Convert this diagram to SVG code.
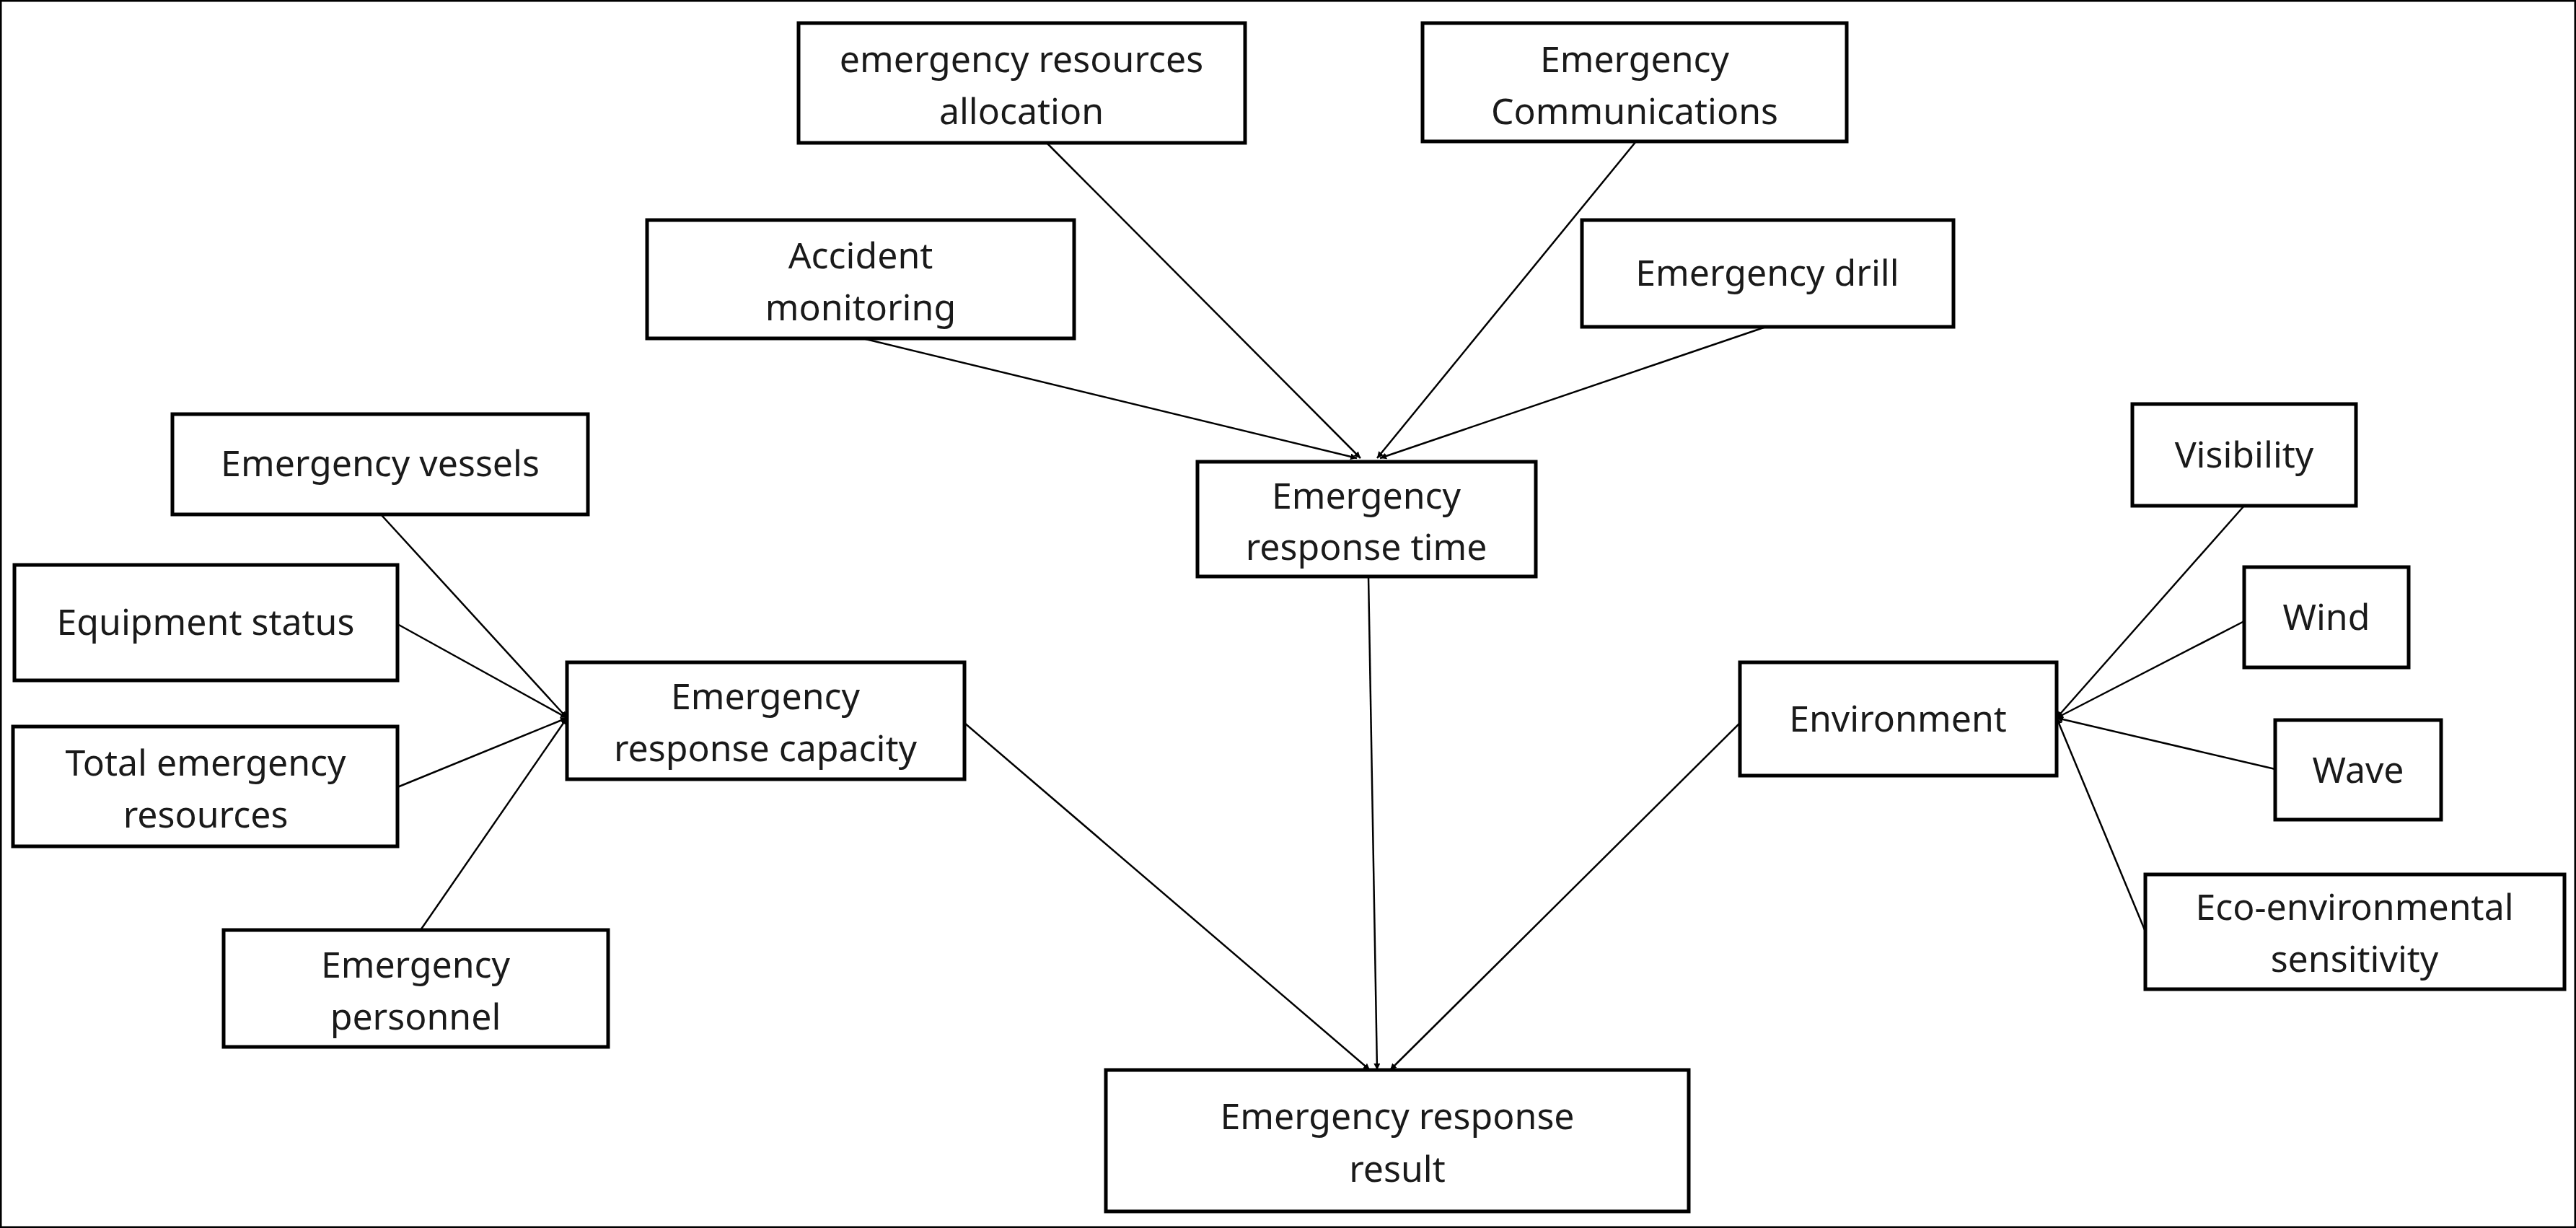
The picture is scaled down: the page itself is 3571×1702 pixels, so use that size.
<svg xmlns="http://www.w3.org/2000/svg" width="3571" height="1702" viewBox="0 0 3571 1702">
<style>
rect{fill:#fff;stroke:#000;stroke-width:5}
text{font-family:"Noto Sans","Open Sans",sans-serif;font-size:50px;text-anchor:middle;fill:#1a1a1a}
#edges line{stroke:#000;stroke-width:2.5;marker-end:url(#ah)}
</style>
<defs><marker id="ah" viewBox="0 0 10 10" refX="10" refY="5" markerWidth="9" markerHeight="9" markerUnits="userSpaceOnUse" orient="auto"><path d="M0,0L10,5L0,10z" fill="#000"/></marker></defs>
<rect width="3571" height="1702" fill="#fff" stroke="none"/>
<g id="edges">
<line x1="1451" y1="198" x2="1886" y2="635"/>
<line x1="2268" y1="196" x2="1909" y2="635"/>
<line x1="1196" y1="469" x2="1881" y2="635"/>
<line x1="2448" y1="453" x2="1913" y2="635"/>
<line x1="528" y1="713" x2="786" y2="995"/>
<line x1="551" y1="865" x2="786" y2="995"/>
<line x1="551" y1="1091" x2="786" y2="995"/>
<line x1="583" y1="1289" x2="786" y2="995"/>
<line x1="1337" y1="1002" x2="1899" y2="1483"/>
<line x1="1897" y1="799" x2="1909" y2="1483"/>
<line x1="2412" y1="1002" x2="1927" y2="1483"/>
<line x1="3111" y1="701" x2="2851" y2="995"/>
<line x1="3111" y1="861" x2="2851" y2="995"/>
<line x1="3154" y1="1066" x2="2851" y2="995"/>
<line x1="2974" y1="1291" x2="2851" y2="995"/>
</g>
<g id="n_alloc"><rect x="1107" y="32" width="619" height="166"/><text x="1416" y="100">emergency resources</text><text x="1416" y="172">allocation</text></g>
<g id="n_comm"><rect x="1972" y="32" width="588" height="164"/><text x="2266" y="100">Emergency</text><text x="2266" y="172">Communications</text></g>
<g id="n_acc"><rect x="897" y="305" width="592" height="164"/><text x="1193" y="372">Accident</text><text x="1193" y="444">monitoring</text></g>
<g id="n_drill"><rect x="2193" y="305" width="515" height="148"/><text x="2450" y="396">Emergency drill</text></g>
<g id="n_time"><rect x="1660" y="640" width="469" height="159"/><text x="1894" y="705">Emergency</text><text x="1894" y="776">response time</text></g>
<g id="n_vessels"><rect x="239" y="574" width="576" height="139"/><text x="527" y="660">Emergency vessels</text></g>
<g id="n_equip"><rect x="20" y="783" width="531" height="160"/><text x="285" y="880">Equipment status</text></g>
<g id="n_total"><rect x="18" y="1007" width="533" height="166"/><text x="285" y="1075">Total emergency</text><text x="285" y="1147">resources</text></g>
<g id="n_pers"><rect x="310" y="1289" width="533" height="162"/><text x="576" y="1355">Emergency</text><text x="576" y="1427">personnel</text></g>
<g id="n_cap"><rect x="786" y="918" width="551" height="162"/><text x="1061" y="983">Emergency</text><text x="1061" y="1055">response capacity</text></g>
<g id="n_result"><rect x="1533" y="1483" width="808" height="196"/><text x="1937" y="1565">Emergency response</text><text x="1937" y="1638">result</text></g>
<g id="n_env"><rect x="2412" y="918" width="439" height="157"/><text x="2631" y="1014">Environment</text></g>
<g id="n_vis"><rect x="2956" y="560" width="310" height="141"/><text x="3111" y="648">Visibility</text></g>
<g id="n_wind"><rect x="3111" y="786" width="228" height="139"/><text x="3225" y="873">Wind</text></g>
<g id="n_wave"><rect x="3154" y="998" width="230" height="138"/><text x="3269" y="1085">Wave</text></g>
<g id="n_eco"><rect x="2974" y="1212" width="581" height="159"/><text x="3264" y="1275">Eco-environmental</text><text x="3264" y="1347">sensitivity</text></g>
</svg>
